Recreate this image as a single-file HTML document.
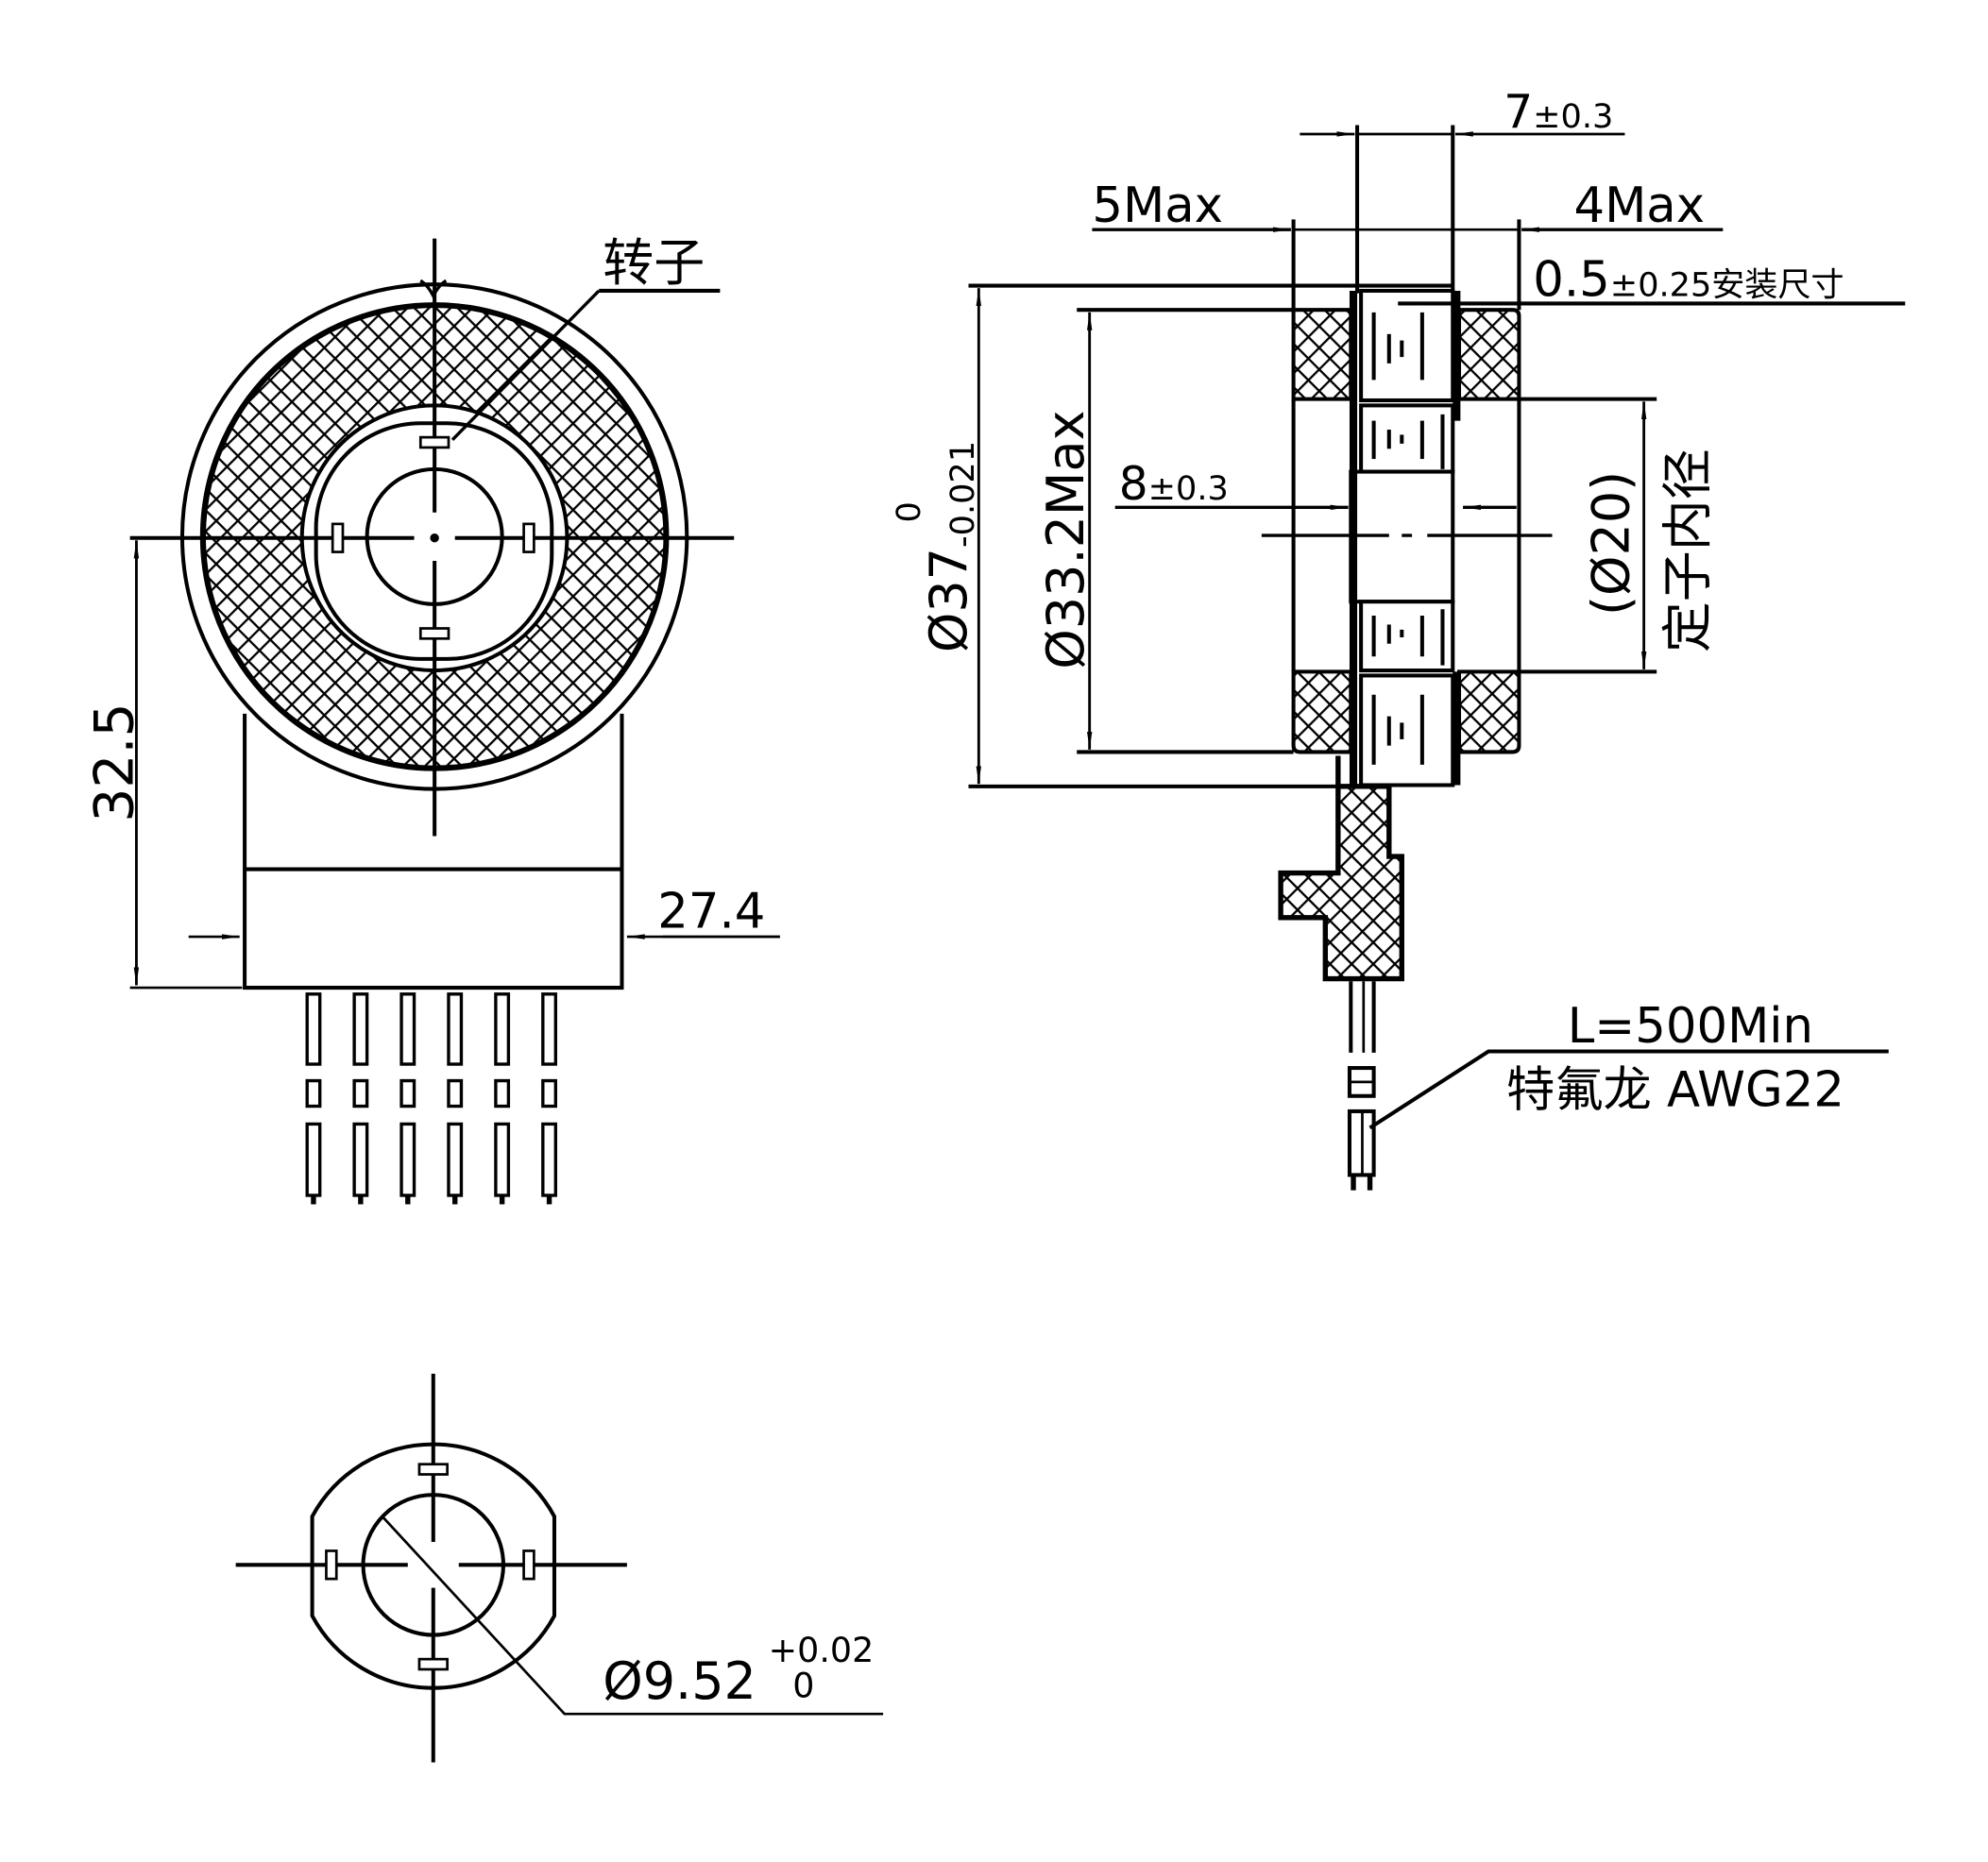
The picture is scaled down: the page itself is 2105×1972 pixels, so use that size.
<!DOCTYPE html>
<html><head><meta charset="utf-8"><style>
html,body{margin:0;padding:0;background:#fff}
svg{display:block}
text{font-family:"DejaVu Sans","Noto Sans CJK SC",sans-serif;fill:#000}
</style></head><body>
<svg width="2105" height="1972" viewBox="0 0 1560 1461" xmlns="http://www.w3.org/2000/svg">
<defs>
<pattern id="h" width="12" height="12" patternUnits="userSpaceOnUse" patternTransform="rotate(45)">
<rect width="12" height="12" fill="#fff"/>
<line x1="0" y1="0" x2="0" y2="12" stroke="#000" stroke-width="3.4"/>
<line x1="0" y1="0" x2="12" y2="0" stroke="#000" stroke-width="3.4"/>
</pattern>
<marker id="a" markerWidth="14" markerHeight="8" refX="14" refY="4" orient="auto" markerUnits="userSpaceOnUse"><path d="M0,2 L14,4 L0,6z" fill="#000"/></marker>
</defs>
<g fill="none" stroke="#000" stroke-width="3">
<!-- LEFT VIEW -->
<path d="M330,220 Q336,224 340,232 Q344,224 350,220" stroke-width="2.5"/>
<circle cx="341" cy="421" r="198"/>
<path fill-rule="evenodd" fill="url(#h)" d="M341,240 a181,181 0 1,0 0.1,0z M341,318 a104,104 0 1,1 -0.1,0z"/>
<circle cx="341" cy="421" r="183" stroke-width="2"/>
<rect x="248" y="332" width="185" height="185" rx="82" fill="#fff"/>
<circle cx="341" cy="421" r="53"/>
<line x1="341" y1="187" x2="341" y2="402"/><line x1="341" y1="440" x2="341" y2="656"/>
<line x1="102" y1="422" x2="325" y2="422"/><line x1="357" y1="422" x2="576" y2="422"/>
<circle cx="341" cy="422" r="2" fill="#000"/>
<g stroke-width="2" fill="#fff">
<rect x="330" y="343" width="22" height="8"/><rect x="330" y="493" width="22" height="8"/>
<rect x="261" y="411" width="8" height="22"/><rect x="411" y="411" width="8" height="22"/>
</g>
<path d="M192,560 L192,775 L488,775 L488,560"/>
<line x1="192" y1="682" x2="488" y2="682"/>
<line x1="148" y1="735" x2="188" y2="735" stroke-width="2" marker-end="url(#a)"/>
<line x1="612" y1="735" x2="492" y2="735" stroke-width="2" marker-end="url(#a)"/>
<line x1="520" y1="735" x2="612" y2="735" stroke-width="2"/>
<line x1="102" y1="775" x2="190" y2="775" stroke-width="2"/>
<line x1="107" y1="424" x2="107" y2="773" stroke-width="2" marker-end="url(#a)"/>
<line x1="107" y1="773" x2="107" y2="424" stroke-width="2" marker-end="url(#a)"/>
<line x1="470" y1="228" x2="565" y2="228"/>
<line x1="470" y1="228" x2="355" y2="345" stroke-width="2.5"/>
<g stroke-width="2.5" fill="#fff">
<rect x="241" y="780" width="10" height="55"/><rect x="278" y="780" width="10" height="55"/><rect x="315" y="780" width="10" height="55"/><rect x="352" y="780" width="10" height="55"/><rect x="389" y="780" width="10" height="55"/><rect x="426" y="780" width="10" height="55"/>
<rect x="241" y="848" width="10" height="20"/><rect x="278" y="848" width="10" height="20"/><rect x="315" y="848" width="10" height="20"/><rect x="352" y="848" width="10" height="20"/><rect x="389" y="848" width="10" height="20"/><rect x="426" y="848" width="10" height="20"/>
<rect x="241" y="882" width="10" height="56"/><rect x="278" y="882" width="10" height="56"/><rect x="315" y="882" width="10" height="56"/><rect x="352" y="882" width="10" height="56"/><rect x="389" y="882" width="10" height="56"/><rect x="426" y="882" width="10" height="56"/>
</g>
<g stroke-width="4"><line x1="246" y1="938" x2="246" y2="945"/><line x1="283" y1="938" x2="283" y2="945"/><line x1="320" y1="938" x2="320" y2="945"/><line x1="357" y1="938" x2="357" y2="945"/><line x1="394" y1="938" x2="394" y2="945"/><line x1="431" y1="938" x2="431" y2="945"/></g>

<!-- BOTTOM VIEW -->
<path d="M245,1190 A108,108 0 0,1 435,1190 L435,1268 A108,108 0 0,1 245,1268 Z"/>
<circle cx="340" cy="1228" r="55"/>
<line x1="185" y1="1228" x2="320" y2="1228"/><line x1="360" y1="1228" x2="492" y2="1228"/>
<line x1="340" y1="1078" x2="340" y2="1210"/><line x1="340" y1="1246" x2="340" y2="1383"/>
<g stroke-width="2" fill="#fff">
<rect x="329" y="1149" width="22" height="8"/><rect x="329" y="1302" width="22" height="8"/>
<rect x="256" y="1217" width="8" height="22"/><rect x="411" y="1217" width="8" height="22"/>
</g>
<polyline points="693,1345 443,1345 300,1190" stroke-width="2"/>

<!-- RIGHT VIEW -->
<line x1="760" y1="224" x2="1140" y2="224"/>
<line x1="760" y1="617" x2="1090" y2="617"/>
<line x1="768" y1="226" x2="768" y2="615" stroke-width="2" marker-end="url(#a)"/>
<line x1="768" y1="615" x2="768" y2="226" stroke-width="2" marker-end="url(#a)"/>
<line x1="845" y1="243" x2="1015" y2="243"/>
<line x1="845" y1="590" x2="1015" y2="590"/>
<line x1="855" y1="245" x2="855" y2="588" stroke-width="2" marker-end="url(#a)"/>
<line x1="855" y1="588" x2="855" y2="245" stroke-width="2" marker-end="url(#a)"/>
<path d="M1015,243 L1060,243 L1060,313 L1015,313 Z M1015,527 L1060,527 L1060,590 L1020,590 Q1015,590 1015,585 Z" fill="url(#h)"/>
<path d="M1145,243 L1187,243 Q1192,243 1192,248 L1192,313 L1145,313 Z M1145,527 L1192,527 L1192,585 Q1192,590 1187,590 L1145,590 Z" fill="url(#h)"/>
<line x1="1015" y1="313" x2="1015" y2="527"/>
<line x1="1192" y1="313" x2="1192" y2="527"/>
<line x1="1015" y1="172" x2="1015" y2="243"/><line x1="1192" y1="172" x2="1192" y2="243"/>
<line x1="1065" y1="98" x2="1065" y2="230"/><line x1="1140" y1="98" x2="1140" y2="230"/>
<g stroke-width="3" fill="#fff">
<rect x="1068" y="228" width="72" height="86"/>
<rect x="1068" y="318" width="72" height="52"/>
<rect x="1060" y="370" width="80" height="102"/>
<rect x="1068" y="472" width="72" height="54"/>
<rect x="1068" y="530" width="72" height="86"/>
</g>
<line x1="1062" y1="228" x2="1062" y2="616" stroke-width="6"/>
<line x1="1143" y1="228" x2="1143" y2="330" stroke-width="6"/>
<line x1="1143" y1="527" x2="1143" y2="616" stroke-width="6"/>
<g stroke-width="3">
<line x1="1078" y1="245" x2="1078" y2="298"/><line x1="1090" y1="262" x2="1090" y2="285"/><line x1="1100" y1="267" x2="1100" y2="280"/><line x1="1116" y1="245" x2="1116" y2="298"/>
<line x1="1078" y1="330" x2="1078" y2="360"/><line x1="1090" y1="337" x2="1090" y2="352"/><line x1="1100" y1="341" x2="1100" y2="348"/><line x1="1116" y1="330" x2="1116" y2="360"/><line x1="1132" y1="325" x2="1132" y2="368"/>
<line x1="1078" y1="483" x2="1078" y2="515"/><line x1="1090" y1="490" x2="1090" y2="505"/><line x1="1100" y1="494" x2="1100" y2="500"/><line x1="1116" y1="483" x2="1116" y2="515"/><line x1="1132" y1="478" x2="1132" y2="522"/>
<line x1="1078" y1="545" x2="1078" y2="600"/><line x1="1090" y1="562" x2="1090" y2="585"/><line x1="1100" y1="567" x2="1100" y2="580"/><line x1="1116" y1="545" x2="1116" y2="600"/>
</g>
<path d="M1050,617 L1090,617 L1090,672 L1100,672 L1100,768 L1040,768 L1040,720 L1005,720 L1005,685 L1050,685 Z" fill="url(#h)" stroke-width="4"/>
<line x1="1050" y1="593" x2="1050" y2="617" stroke-width="4"/>
<line x1="1060" y1="770" x2="1060" y2="826" stroke-width="3"/><line x1="1070" y1="770" x2="1070" y2="826" stroke-width="2"/><line x1="1078" y1="770" x2="1078" y2="826" stroke-width="3"/>
<rect x="1059" y="838" width="19" height="22" stroke-width="3"/><line x1="1059" y1="849" x2="1078" y2="849" stroke-width="2"/>
<rect x="1059" y="872" width="19" height="50" stroke-width="3"/><line x1="1069" y1="872" x2="1069" y2="922" stroke-width="2"/>
<line x1="1062" y1="922" x2="1062" y2="934" stroke-width="4"/><line x1="1075" y1="922" x2="1075" y2="934" stroke-width="4"/>
<!-- top dims -->
<line x1="1020" y1="105" x2="1063" y2="105" stroke-width="2" marker-end="url(#a)"/>
<line x1="1275" y1="105" x2="1142" y2="105" stroke-width="2" marker-end="url(#a)"/>
<line x1="1065" y1="105" x2="1140" y2="105" stroke-width="2"/>
<line x1="857" y1="180" x2="1013" y2="180" stroke-width="2.5" marker-end="url(#a)"/>
<line x1="1352" y1="180" x2="1194" y2="180" stroke-width="2.5" marker-end="url(#a)"/>
<line x1="1015" y1="180" x2="1192" y2="180" stroke-width="2"/>
<line x1="1097" y1="238" x2="1495" y2="238"/>
<line x1="875" y1="398" x2="1058" y2="398" stroke-width="2.5" marker-end="url(#a)"/>
<line x1="1190" y1="398" x2="1148" y2="398" stroke-width="2.5" marker-end="url(#a)"/>
<path d="M990,420 H1090 M1100,420 H1108 M1120,420 H1218" stroke-width="2.5"/>
<line x1="1192" y1="313" x2="1300" y2="313"/>
<line x1="1192" y1="527" x2="1300" y2="527"/>
<line x1="1290" y1="315" x2="1290" y2="525" stroke-width="2" marker-end="url(#a)"/>
<line x1="1290" y1="525" x2="1290" y2="315" stroke-width="2" marker-end="url(#a)"/>
<polyline points="1482,825 1168,825 1075,885" stroke-width="3"/>
</g>
<!-- TEXT -->
<text x="473" y="220" font-size="40">转子</text>
<text x="516" y="728" font-size="38">27.4</text>
<text transform="translate(104,645) rotate(-90)" font-size="42">32.5</text>
<text x="473" y="1333" font-size="40">Ø9.52</text>
<text x="603" y="1304" font-size="27">+0.02</text>
<text x="622" y="1332" font-size="27">0</text>
<text x="1180" y="100" font-size="36">7<tspan font-size="26">±0.3</tspan></text>
<text x="857" y="174" font-size="38">5Max</text>
<text x="1235" y="174" font-size="38">4Max</text>
<text x="1203" y="232" font-size="38">0.5<tspan font-size="26">±0.25安装尺寸</tspan></text>
<text x="878" y="392" font-size="36">8<tspan font-size="26">±0.3</tspan></text>
<text transform="translate(758,512) rotate(-90)" font-size="40">Ø37<tspan font-size="26" dy="6">-0.021</tspan></text>
<text transform="translate(722,410) rotate(-90)" font-size="26">0</text>
<text transform="translate(850,525) rotate(-90)" font-size="40">Ø33.2Max</text>
<text transform="translate(1278,483) rotate(-90)" font-size="40">(Ø20)</text>
<text transform="translate(1338,512) rotate(-90)" font-size="40">定子内径</text>
<text x="1230" y="818" font-size="38">L=500Min</text>
<text x="1182" y="868" font-size="38">特氟龙 AWG22</text>
</svg>
</body></html>
